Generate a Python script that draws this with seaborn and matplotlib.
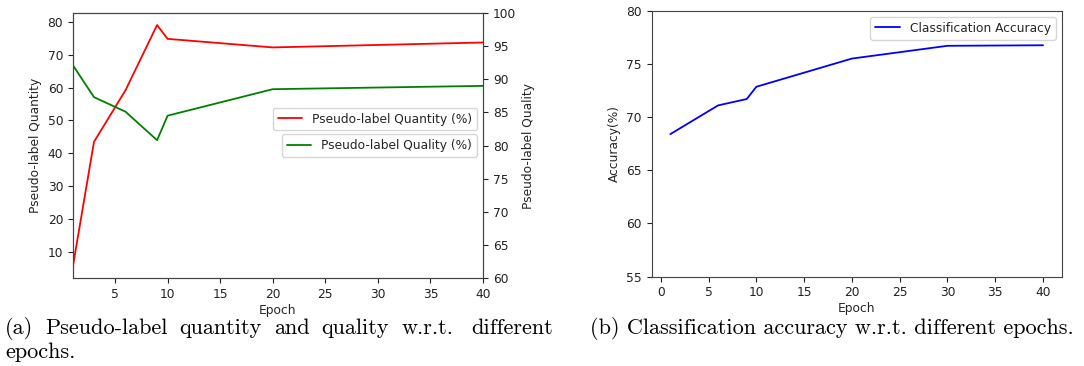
import matplotlib
matplotlib.use("Agg")
import matplotlib.pyplot as plt
import seaborn as sns
import pandas as pd

sns.set_style("ticks")
plt.rcParams['font.family'] = ['DejaVu Sans']

# ---- data ----
epochs_a = [1, 3, 6, 9, 10, 20, 40]
quantity = [5.8, 43.5, 59.2, 79.0, 74.8, 72.2, 73.7]
quality = [92.1, 87.3, 85.1, 80.8, 84.5, 88.5, 89.0]

epochs_b = [1, 6, 9, 10, 20, 30, 40]
accuracy = [68.4, 71.1, 71.7, 72.85, 75.5, 76.7, 76.75]

caption_a1 = ["(a)", "Pseudo-label", "quantity", "and", "quality", "w.r.t.", "different"]
caption_a2 = "epochs."
caption_b = "(b) Classification accuracy w.r.t. different epochs."

FS = 8.8
W, H = 1084, 366
fig = plt.figure(figsize=(10.84, 3.66), dpi=100)
ax1 = fig.add_axes([0.0673, 0.2404, 0.3783, 0.7241])
ax2 = ax1.twinx()
ax3 = fig.add_axes([0.6012, 0.244, 0.3782, 0.7268])

dfa = pd.DataFrame({"Epoch": epochs_a, "quantity": quantity, "quality": quality})
dfb = pd.DataFrame({"Epoch": epochs_b, "accuracy": accuracy})

sns.lineplot(data=dfa, x="Epoch", y="quantity", ax=ax1, color="red", linewidth=1.3,
             label="Pseudo-label Quantity (%)")
sns.lineplot(data=dfa, x="Epoch", y="quality", ax=ax2, color="green", linewidth=1.3,
             label="Pseudo-label Quality (%)")
sns.lineplot(data=dfb, x="Epoch", y="accuracy", ax=ax3, color="blue", linewidth=1.3,
             label="Classification Accuracy")

ax1.set_xlim(1, 40)
ax1.set_xticks([5, 10, 15, 20, 25, 30, 35, 40])
ax2.set_ylim(60, 100)
ax2.set_yticks(range(60, 101, 5))
ax1.set_xlabel("Epoch", fontsize=FS, labelpad=2)
ax1.set_ylabel("Pseudo-label Quantity", fontsize=FS)
ax2.set_ylabel("Pseudo-label Quality", fontsize=FS)

ax3.set_ylim(55, 80)
ax3.set_xticks(range(0, 41, 5))
ax3.set_xlabel("Epoch", fontsize=FS, labelpad=2)
ax3.set_ylabel("Accuracy(%)", fontsize=FS)

for ax in (ax1, ax2, ax3):
    ax.tick_params(labelsize=FS, length=3.5, width=0.8, colors="#222222")
    for s in ax.spines.values():
        s.set_visible(True)
        s.set_linewidth(0.8)
        s.set_color("#444444")

ax1.legend(loc="center right", bbox_to_anchor=(1, 0.6), fontsize=FS, framealpha=0.8)
ax2.legend(loc="center right", fontsize=FS, framealpha=0.8)
ax3.legend(loc="upper right", fontsize=FS, framealpha=0.8)

CF = dict(family="cmr10", fontsize=16, color="black")
base1 = 1 - 334.5 / H
base2 = 1 - 357.5 / H

# justified first caption line (a): x from 5 to 553 px, wider gap after "w.r.t."
renderer = fig.canvas.get_renderer()
widths = []
for w in caption_a1:
    t = fig.text(0, 0, w, **CF)
    widths.append(t.get_window_extent(renderer).width)
    t.remove()
weights = [1, 1, 1, 1, 1, 1.5]
unit = (553.0 - 5.0 - sum(widths)) / sum(weights)
x = 5.0
for i, (w, wd) in enumerate(zip(caption_a1, widths)):
    fig.text(x / W, base1, w, ha="left", va="baseline", **CF)
    if i < len(weights):
        x += wd + unit * weights[i]

fig.text(5 / W, base2, caption_a2, ha="left", va="baseline", **CF)
fig.text(590 / W, base1, caption_b, ha="left", va="baseline", **CF)

fig.savefig("out.png", dpi=100)
